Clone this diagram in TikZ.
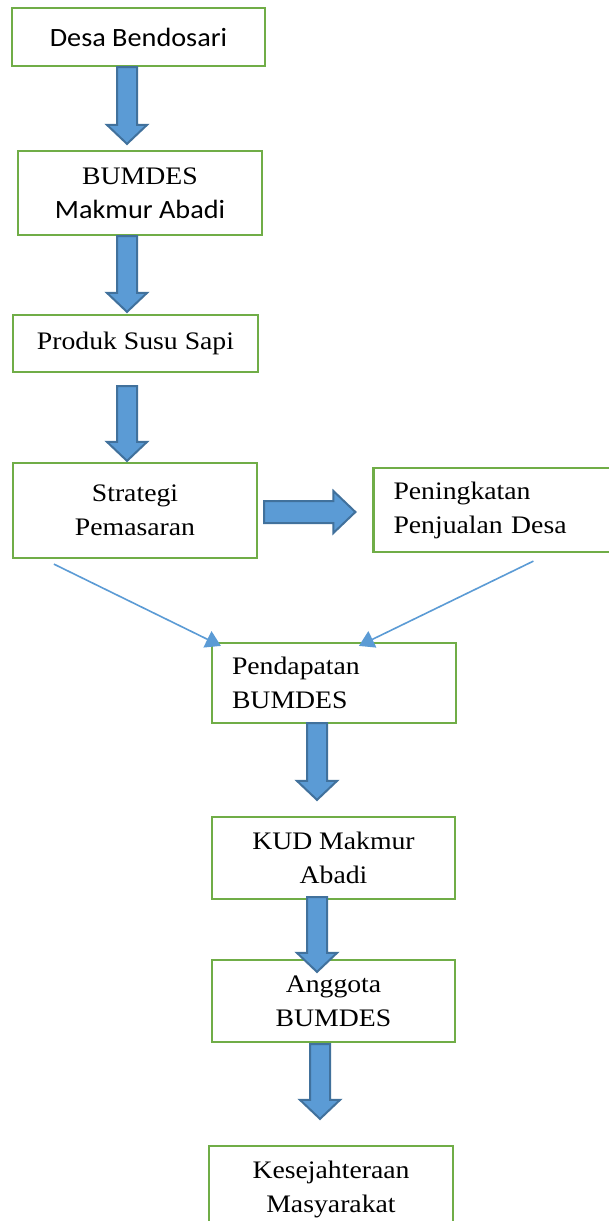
\documentclass[tikz,border=0pt]{standalone}
\usepackage{fontspec}
\setmainfont{Liberation Serif}[FakeStretch=1.1]
\newfontfamily\calibri{Carlito}[FakeStretch=1.07]
\usetikzlibrary{calc,arrows.meta}
\definecolor{boxgreen}{HTML}{70AD47}
\definecolor{arrowblue}{HTML}{5B9BD5}
\definecolor{arrowedge}{HTML}{41719C}
\newcommand{\sanslabel}{\calibri\fontsize{13.2}{17}\selectfont}
\tikzset{box/.style={
            draw=boxgreen,
            fill=white,
            line width=1.1pt,
            inner sep=0pt,
            align=center,
            font=\fontsize{12.6}{17}\selectfont
        },
        leftbox/.style={
            box,
            inner xsep=10pt,
            align=left
        },
        blockarrow/.style={
            draw=arrowedge,
            fill=arrowblue,
            line width=1pt,
            line join=miter
        },
        link/.style={
            draw=arrowblue,
            line width=0.8pt,
            -{Triangle[width=9pt,length=7.5pt]}
        }
    }
% fat arrow pointing down, from #1 (top of shaft) to #2 (tip)
\newcommand{\downblock}[2]{%
  \path #1 coordinate (top) #2 coordinate (tip);
  \draw[blockarrow] ($(top)+(-10,0)$) -- ($(tip)+(-10,-19)$) -- ($(tip)+(-20,-19)$) -- (tip)
    -- ($(tip)+(20,-19)$) -- ($(tip)+(10,-19)$) -- ($(top)+(10,0)$) -- cycle;}

\begin{document}
\begin{tikzpicture}[x=0.5pt,y=-0.5pt]
\clip (0,0) rectangle (609,1221);
\fill[white] (0,0) rectangle (609,1221);
\node[box, minimum width=126.5pt, minimum height=29pt] (desa) at (138.5,37) {\sanslabel Desa Bendosari};
\node[box, minimum width=122pt, minimum height=42pt] (bumdes) at (140,193) {BUMDES\\{\sanslabel Makmur Abadi}};
\node[box, minimum width=122.5pt, minimum height=28.5pt] (produk) at (135.5,343.5) {Produk Susu Sapi};
\node[box, minimum width=122pt, minimum height=47.5pt] (strategi) at (135,510.5) {Strategi\\Pemasaran};
\node[leftbox, text width=101pt, minimum height=42pt] (peningkatan) at (494.5,510) {Peningkatan\\Penjualan Desa};
\node[leftbox, text width=102pt, minimum height=40pt] (pendapatan) at (334,683) {Pendapatan\\BUMDES};
\node[box, minimum width=121.5pt, minimum height=41pt] (kud) at (333.5,858) {KUD Makmur\\Abadi};
\node[box, minimum width=121.5pt, minimum height=41pt] (anggota) at (333.5,1001) {Anggota\\BUMDES};
\node[box, minimum width=122pt, minimum height=43pt] (sejahtera) at (331,1189) {Kesejahteraan\\Masyarakat};

\downblock{($(desa.south)+(-11.5,0)$)}{($(bumdes.north)+(-13,-6)$)}
\downblock{($(bumdes.south)+(-13,0)$)}{($(produk.north)+(-8.5,-2)$)}
\downblock{($(produk.south)+(-8.5,13)$)}{($(strategi.north)+(-8,-1)$)}
\path ($(strategi.east)+(6,1.5)$) coordinate (tail) ($(peningkatan.west)+(-17,2)$) coordinate (head);
\draw[blockarrow] ($(tail)+(0,-11)$) -- ($(head)+(-22,-11)$) -- ($(head)+(-22,-21)$) -- (head)
  -- ($(head)+(-22,21)$) -- ($(head)+(-22,11)$) -- ($(tail)+(0,11)$) -- cycle;
\downblock{($(pendapatan.south)+(-17,-1)$)}{($(kud.north)+(-16.5,-16)$)}
\downblock{($(kud.south)+(-16.5,-3)$)}{($(anggota.north)+(-16.5,13)$)}
\downblock{($(anggota.south)+(-13.5,1)$)}{($(sejahtera.north)+(-11,-26)$)}

\coordinate (s1) at ($(strategi.south west)+(42,5)$);
\coordinate (s2) at ($(peningkatan.south west)+(161,8)$);
\draw[link] (s1) -- ($(pendapatan.north west)+(10,4)$);
\draw[link] (s2) -- ($(pendapatan.north west)+(148,4)$);
\end{tikzpicture}
\end{document}
